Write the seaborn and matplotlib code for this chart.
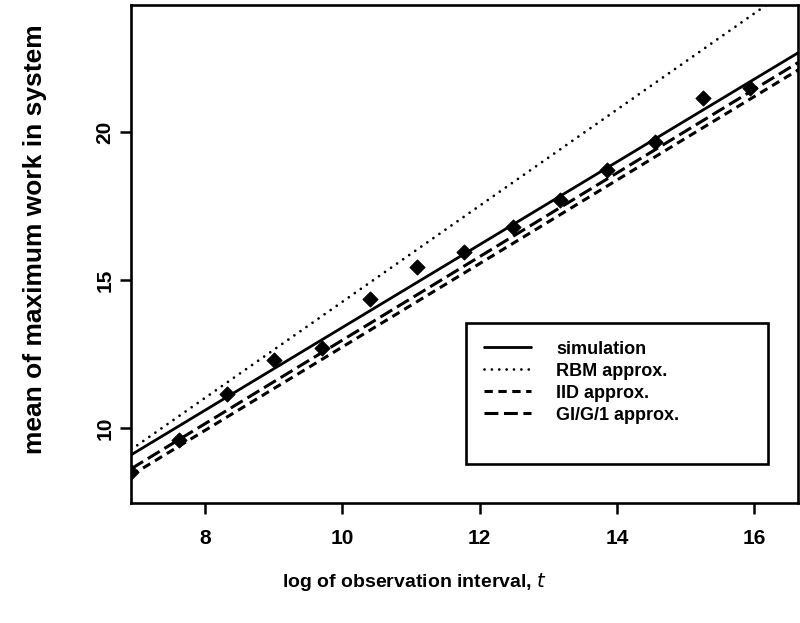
import numpy as np
import pandas as pd
import matplotlib.pyplot as plt
import seaborn as sns
from matplotlib.lines import Line2D

# simulation points (log of observation interval vs mean max work)
log_t = [6.93, 7.62, 8.32, 9.01, 9.70, 10.40, 11.09, 11.78, 12.48, 13.17, 13.86, 14.56, 15.25, 15.94]
sim_points = [8.50, 9.60, 11.15, 12.30, 12.70, 14.35, 15.45, 15.95, 16.80, 17.70, 18.70, 19.65, 21.15, 21.50]

# fitted / approximation curves, read off at a few t values
line_t = [6.93, 9.0, 11.0, 13.0, 15.0, 16.64]
simulation = [9.09, 11.99, 14.79, 17.59, 20.39, 22.68]
rbm = [9.27, 12.63, 15.88, 19.13, 22.38, 25.05]
iid = [8.40, 11.32, 14.14, 16.96, 19.79, 22.10]
gig1 = [8.62, 11.55, 14.37, 17.20, 20.03, 22.35]

x_ticks = [8, 10, 12, 14, 16]
y_ticks = [10, 15, 20]

sns.set_style("ticks")
plt.rcParams['font.family'] = ['Liberation Sans', 'DejaVu Sans']
plt.rcParams['lines.scale_dashes'] = False
for key in ["text.color", "axes.labelcolor", "xtick.color", "ytick.color"]:
    plt.rcParams[key] = "black"

fig = plt.figure(figsize=(8, 6.23), dpi=100)
ax = fig.add_axes([0.164, 0.193, 0.834, 0.799])

curves = pd.DataFrame({"t": line_t, "simulation": simulation, "rbm": rbm,
                       "iid": iid, "gig1": gig1})

sns.lineplot(data=curves, x="t", y="simulation", color="black", lw=2.0,
             label="simulation", ax=ax)
sns.lineplot(data=curves, x="t", y="rbm", color="black", lw=2.0,
             linestyle=(0, (0.01, 5.3)), dash_capstyle="round",
             label="RBM approx.", ax=ax)
sns.lineplot(data=curves, x="t", y="iid", color="black", lw=2.2,
             linestyle=(0, (6, 4)), label="IID approx.", ax=ax)
sns.lineplot(data=curves, x="t", y="gig1", color="black", lw=2.2,
             linestyle=(0, (10, 4)), label="GI/G/1 approx.", ax=ax)

sns.scatterplot(x=log_t, y=sim_points, marker="D", s=60, color="black",
                edgecolor="black", zorder=3, legend=False, ax=ax)

ax.set_xlim(6.93, 16.64)
ax.set_ylim(7.47, 24.29)
ax.set_xticks(x_ticks)
ax.set_yticks(y_ticks)
ax.set_xticklabels([str(v) for v in x_ticks], weight="bold", fontsize=15)
ax.set_yticklabels([str(v) for v in y_ticks], weight="bold", fontsize=15,
                   rotation=90, va="center")
ax.tick_params(direction="out", length=8, width=1.8, color="black", pad=4)
ax.tick_params(axis="x", pad=11)

for s in ax.spines.values():
    s.set_linewidth(1.9)
    s.set_color("black")

ax.set_xlabel("log of observation interval, $\\it{t}$", weight="bold", fontsize=14)
ax.set_ylabel("mean of maximum work in system", weight="bold", fontsize=19)
ax.xaxis.set_label_coords(0.425, -0.137)
ax.yaxis.set_label_coords(-0.126, 0.53)

handles, labels = ax.get_legend_handles_labels()
handles.append(Line2D([], [], color="none"))
labels.append(" ")
leg = ax.legend(handles, labels, loc="upper left",
                bbox_to_anchor=(0.502, 0.362, 0.453, 0.0), mode="expand",
                borderaxespad=0, frameon=True, fancybox=False, framealpha=1,
                edgecolor="black", handlelength=2.6, handletextpad=1.4,
                borderpad=1.0, labelspacing=0.28,
                prop={"weight": "bold", "size": 13})
leg.get_frame().set_linewidth(1.9)

fig.savefig("out.png", dpi=100)
